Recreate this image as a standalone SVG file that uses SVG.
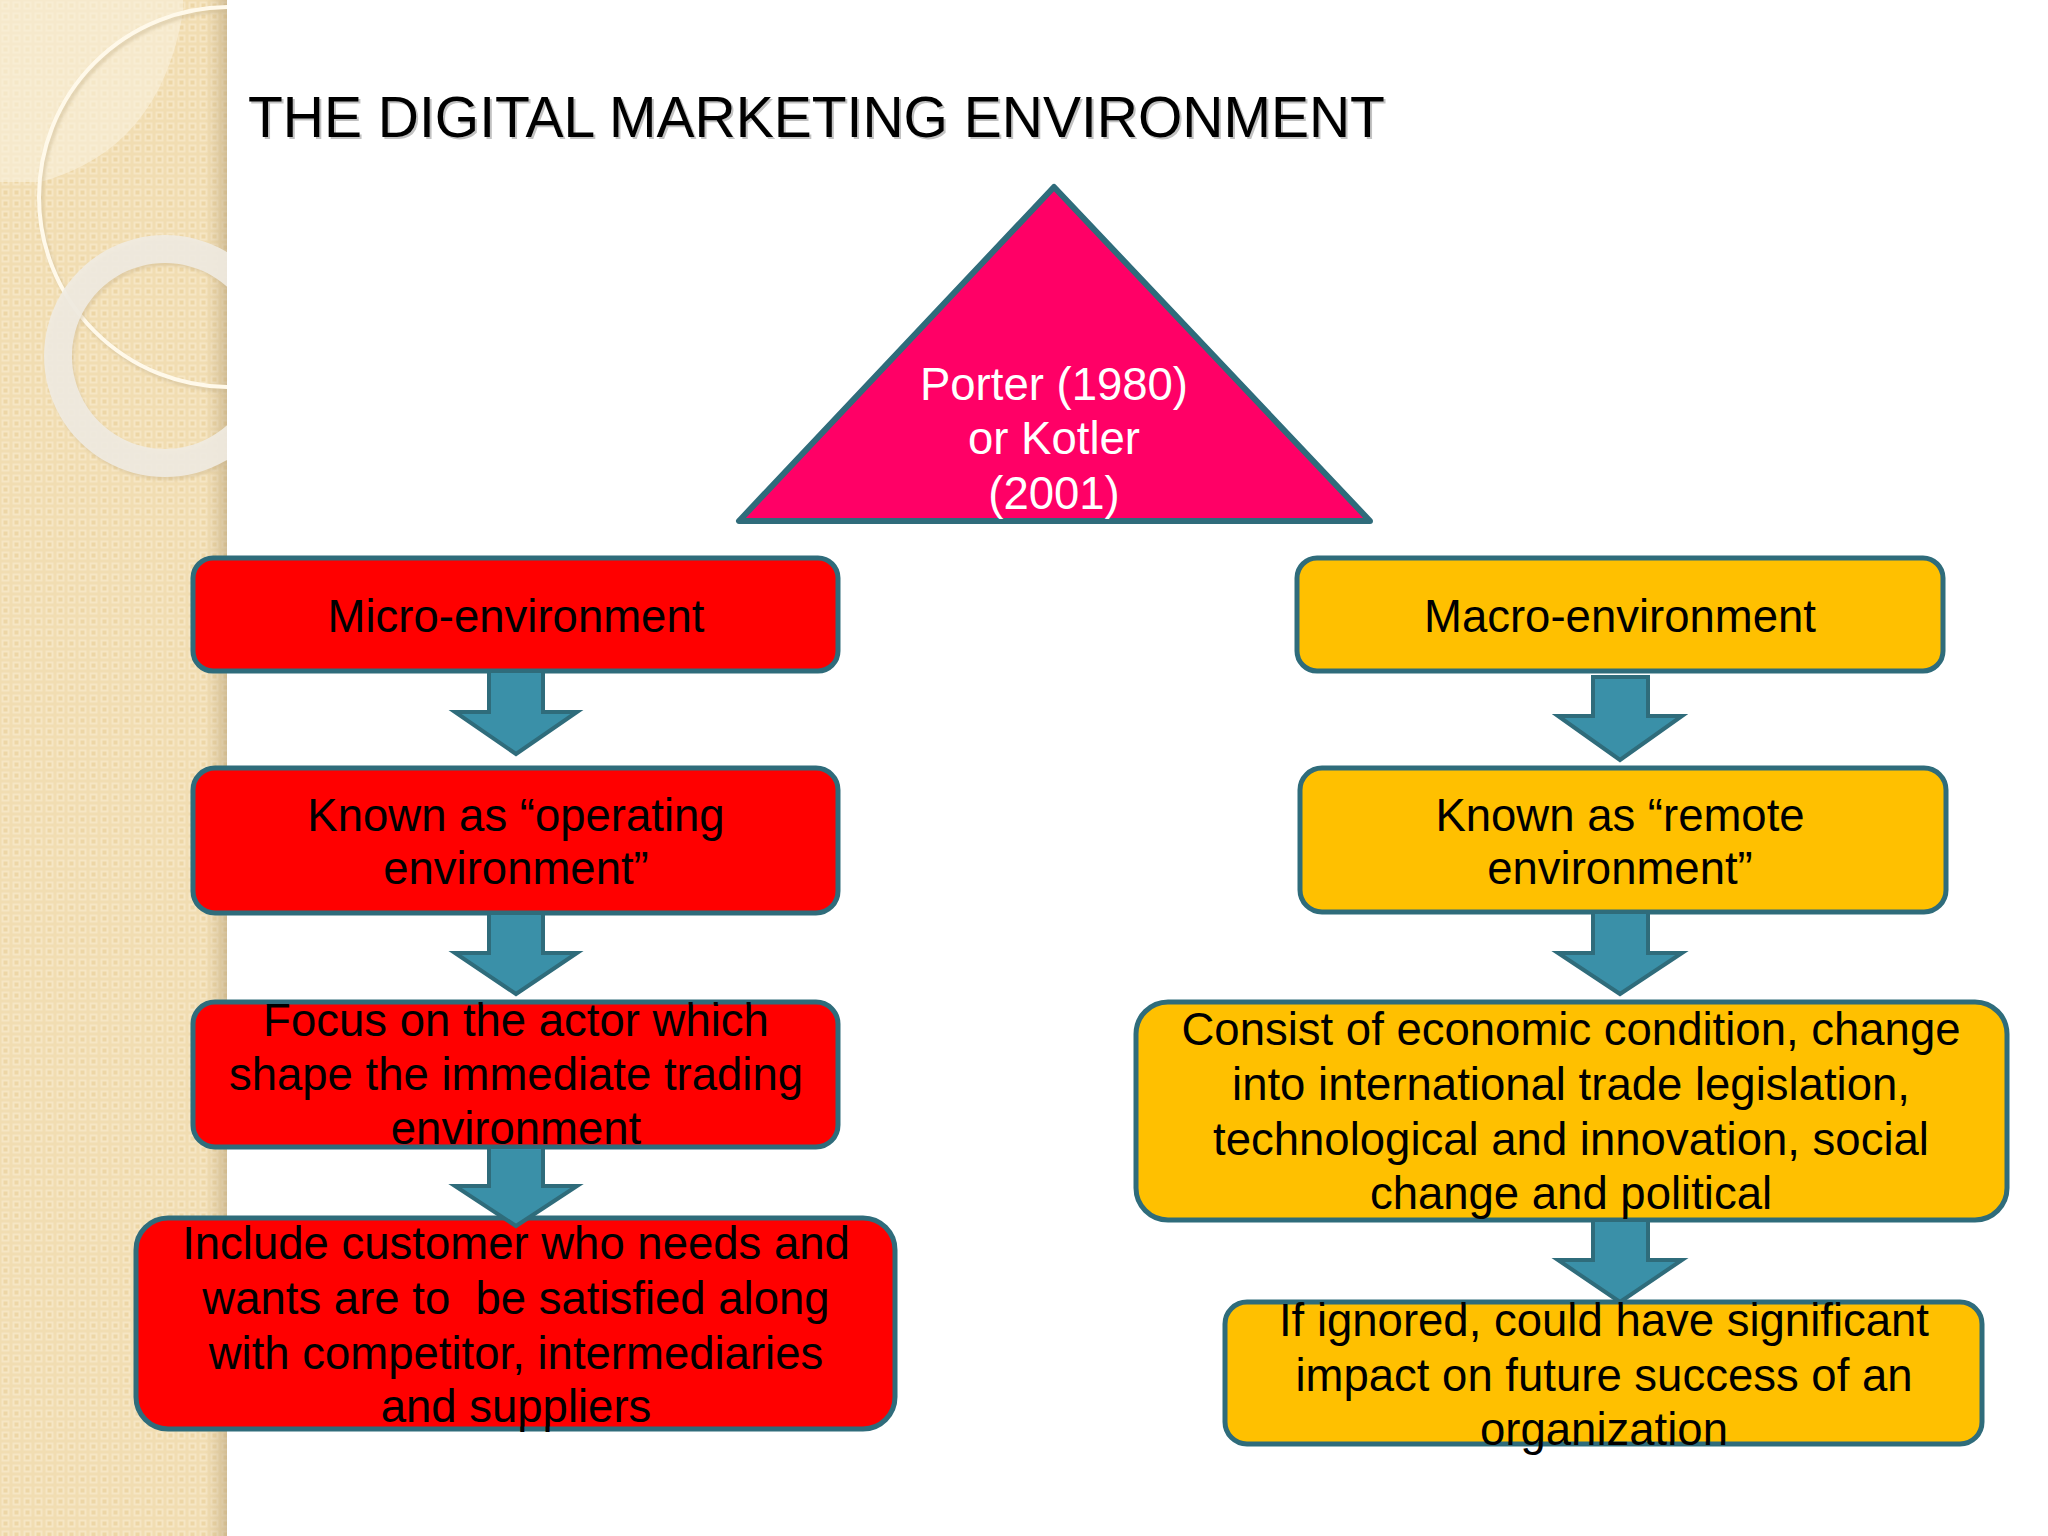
<svg xmlns="http://www.w3.org/2000/svg" width="2048" height="1536" viewBox="0 0 2048 1536">
  <defs>
    <pattern id="weave" x="0" y="0" width="11" height="11" patternUnits="userSpaceOnUse">
      <rect x="0" y="0" width="11" height="11" fill="#F1DDB2"/>
      <rect x="1.5" y="1.5" width="8" height="8" fill="#F6E6C4"/>
      <rect x="3.5" y="3.5" width="4" height="4" fill="#EDD6A6"/>
    </pattern>
    <linearGradient id="edge" x1="0" y1="0" x2="1" y2="0">
      <stop offset="0" stop-color="#C9B389" stop-opacity="0"/>
      <stop offset="1" stop-color="#B8A27A" stop-opacity="0.55"/>
    </linearGradient>
    <clipPath id="stripClip">
      <rect x="0" y="0" width="227" height="1536"/>
    </clipPath>
    <filter id="soft" x="-10%" y="-10%" width="120%" height="120%">
      <feGaussianBlur stdDeviation="1.5"/>
    </filter>
  </defs>
  <style>
    .red { fill: #FF0000; stroke: #2F6C7B; stroke-width: 5; }
    .amb { fill: #FFC000; stroke: #2F6C7B; stroke-width: 5; }
    .arrow { fill: #3A90A8; stroke: #2F6C7B; stroke-width: 4; stroke-linejoin: miter; }
    .t { font-family: "Liberation Sans", Arial, sans-serif; font-size: 45.5px; fill: #000000; text-anchor: middle; }
    .tw { font-family: "Liberation Sans", Arial, sans-serif; font-size: 45.5px; fill: #FFFFFF; text-anchor: middle; }
    .title { font-family: "Liberation Sans", Arial, sans-serif; font-size: 57px; }
  </style>

  <rect x="0" y="0" width="2048" height="1536" fill="#FFFFFF"/>

  <!-- decorative left strip -->
  <g id="strip">
    <rect x="0" y="0" width="227" height="1536" fill="url(#weave)"/>
    <rect x="205" y="0" width="22" height="1536" fill="url(#edge)"/>
    <g clip-path="url(#stripClip)">
      <path d="M0,0 H183 V12 Q160,150 40,182 H0 Z" fill="#FAF1DE" opacity="0.6"/>
      <circle cx="229" cy="197" r="190" fill="none" stroke="#CDBB95" stroke-width="5" opacity="0.5" filter="url(#soft)" transform="translate(2,3)"/>
      <circle cx="229" cy="197" r="190" fill="none" stroke="#FFF9EA" stroke-width="4"/>
      <path d="M165,235 a121,121 0 1,0 0.1,0 Z M165,263 a93,93 0 1,1 -0.1,0 Z" fill="#C9B48C" opacity="0.4" fill-rule="evenodd" filter="url(#soft)" transform="translate(2,3)"/>
      <path d="M165,235 a121,121 0 1,0 0.1,0 Z M165,263 a93,93 0 1,1 -0.1,0 Z" fill="#EFEBE2" opacity="0.9" fill-rule="evenodd"/>
    </g>
  </g>

  <!-- title -->
  <g id="title">
    <text class="title" x="250" y="139" fill="#9A9A9A" opacity="0.6">THE DIGITAL MARKETING ENVIRONMENT</text>
    <text class="title" x="248" y="137" fill="#000000">THE DIGITAL MARKETING ENVIRONMENT</text>
  </g>

  <!-- triangle -->
  <g id="node-porter">
    <polygon points="1054,187 739,521 1370,521" fill="#FF0066" stroke="#2F6C7B" stroke-width="6" stroke-linejoin="round"/>
    <text class="tw" x="1054" y="400">Porter (1980)</text>
    <text class="tw" x="1054" y="454">or Kotler</text>
    <text class="tw" x="1054" y="509">(2001)</text>
  </g>

  <!-- node boxes -->
  <g id="node-micro"><rect class="red" x="193" y="558" width="645" height="113" rx="20"/></g>
  <g id="node-operating"><rect class="red" x="193" y="768" width="645" height="145" rx="22"/></g>
  <g id="node-focus"><rect class="red" x="193" y="1002" width="645" height="145" rx="22"/></g>
  <g id="node-include"><rect class="red" x="136" y="1218" width="759" height="211" rx="32"/></g>

  <g id="node-macro"><rect class="amb" x="1297" y="558" width="646" height="113" rx="20"/></g>
  <g id="node-remote"><rect class="amb" x="1300" y="768" width="646" height="144" rx="22"/></g>
  <g id="node-consist"><rect class="amb" x="1136" y="1002" width="871" height="218" rx="32"/></g>
  <g id="node-ignored"><rect class="amb" x="1225" y="1302" width="757" height="142" rx="22"/></g>

  <!-- connectors -->
  <g id="connectors">
    <path class="arrow" d="M489,671 H543 V712 H577 L516,754 L455,712 H489 Z"/>
    <path class="arrow" d="M489,913 H543 V953 H577 L516,994 L455,953 H489 Z"/>
    <path class="arrow" d="M489,1147 H543 V1186 H577 L516,1226 L455,1186 H489 Z"/>
    <path class="arrow" d="M1593,677 H1648 V716 H1682 L1620,760 L1558,716 H1593 Z"/>
    <path class="arrow" d="M1593,912 H1648 V953 H1682 L1620,994 L1558,953 H1593 Z"/>
    <path class="arrow" d="M1593,1220 H1648 V1260 H1682 L1620,1302 L1558,1260 H1593 Z"/>
  </g>

  <!-- labels -->
  <g id="labels">
    <text class="t" x="516" y="632">Micro-environment</text>
    <text class="t" x="516" y="831">Known as “operating</text>
    <text class="t" x="516" y="884">environment”</text>
    <text class="t" x="516" y="1036">Focus on the actor which</text>
    <text class="t" x="516" y="1090">shape the immediate trading</text>
    <text class="t" x="516" y="1144">environment</text>
    <text class="t" x="516" y="1259">Include customer who needs and</text>
    <text class="t" x="516" y="1314" xml:space="preserve">wants are to  be satisfied along</text>
    <text class="t" x="516" y="1369">with competitor, intermediaries</text>
    <text class="t" x="516" y="1422">and suppliers</text>

    <text class="t" x="1620" y="632">Macro-environment</text>
    <text class="t" x="1620" y="831">Known as “remote</text>
    <text class="t" x="1620" y="884">environment”</text>
    <text class="t" x="1571" y="1045">Consist of economic condition, change</text>
    <text class="t" x="1571" y="1100">into international trade legislation,</text>
    <text class="t" x="1571" y="1155">technological and innovation, social</text>
    <text class="t" x="1571" y="1209">change and political</text>
    <text class="t" x="1604" y="1336">If ignored, could have significant</text>
    <text class="t" x="1604" y="1391">impact on future success of an</text>
    <text class="t" x="1604" y="1445">organization</text>
  </g>
</svg>
